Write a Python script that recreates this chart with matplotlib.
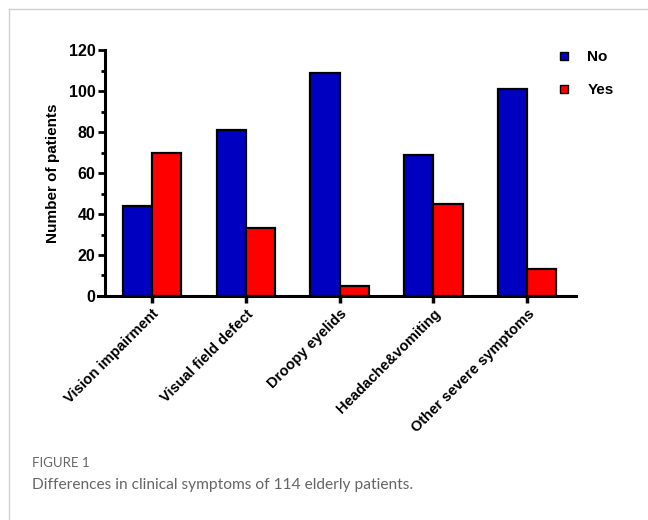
import numpy as np
import matplotlib
matplotlib.use("Agg")
import matplotlib.pyplot as plt
from matplotlib.lines import Line2D
from matplotlib.ticker import MultipleLocator

# ── Data ─────────────────────────────────────────────────────────────────────
categories = ["Vision impairment", "Visual field defect", "Droopy eyelids",
              "Headache&vomiting", "Other severe symptoms"]
no_counts = [44, 81, 109, 69, 101]
yes_counts = [70, 33, 5, 45, 13]

plt.rcParams["font.family"] = ["Liberation Sans", "DejaVu Sans"]

BLUE = "#0000C0"
RED = "#FF0000"

fig = plt.figure(figsize=(6.48, 5.2), dpi=100)
ax = fig.add_axes([0.162, 0.431, 0.727, 0.472])

x = np.arange(len(categories))
w = 0.31
ax.bar(x - w / 2, no_counts, w, color=BLUE, edgecolor="black", linewidth=1.6, label="No")
ax.bar(x + w / 2, yes_counts, w, color=RED, edgecolor="black", linewidth=1.6, label="Yes")

ax.set_xlim(-0.5, 4.52)
ax.set_ylim(0, 120)
ax.yaxis.set_major_locator(MultipleLocator(20))
ax.yaxis.set_minor_locator(MultipleLocator(10))
ax.set_xticks(x)
ax.set_xticklabels(categories, rotation=45, ha="right", rotation_mode="anchor",
                   fontsize=10.5, fontweight="bold")
for lbl in ax.get_yticklabels():
    lbl.set_fontweight("bold")
ax.tick_params(axis="y", labelsize=11.5, width=2, length=5, pad=2)
ax.tick_params(axis="y", which="minor", width=2, length=3)
ax.tick_params(axis="x", width=2.5, length=5, pad=3)
ax.set_ylabel("Number of patients", fontsize=11, fontweight="bold", labelpad=6)

for side in ("top", "right"):
    ax.spines[side].set_visible(False)
for side in ("left", "bottom"):
    ax.spines[side].set_linewidth(2.2)
ax.spines["bottom"].set_bounds(-0.57, 4.52)

legend_elements = [
    Line2D([0], [0], marker="s", color=BLUE, ms=5.5, lw=0,
           markeredgecolor="black", markeredgewidth=1, label="No"),
    Line2D([0], [0], marker="s", color=RED, ms=5.5, lw=0,
           markeredgecolor="black", markeredgewidth=1, label="Yes"),
]
leg = fig.legend(handles=legend_elements, loc="upper left",
                 bbox_to_anchor=(0.838, 0.93), frameon=False,
                 prop={"size": 11, "weight": "bold"},
                 handlelength=1.0, handletextpad=1.0, labelspacing=1.25)

# page frame
fig.add_artist(Line2D([9 / 648, 1], [1 - 9 / 520, 1 - 9 / 520],
                      transform=fig.transFigure, color="#d0d0d0", lw=1))
fig.add_artist(Line2D([9 / 648, 9 / 648], [0, 1 - 9 / 520],
                      transform=fig.transFigure, color="#d0d0d0", lw=1))

# caption
fig.text(32 / 648, 1 - 463 / 520, "FIGURE 1", fontsize=9.5, color="#666666",
         family=["Lato", "DejaVu Sans"], va="center")
fig.text(32 / 648, 1 - 485 / 520, "Differences in clinical symptoms of 114 elderly patients.",
         fontsize=11.2, color="#666666", family=["Lato", "DejaVu Sans"], va="center")

fig.savefig("out.png", dpi=100)
